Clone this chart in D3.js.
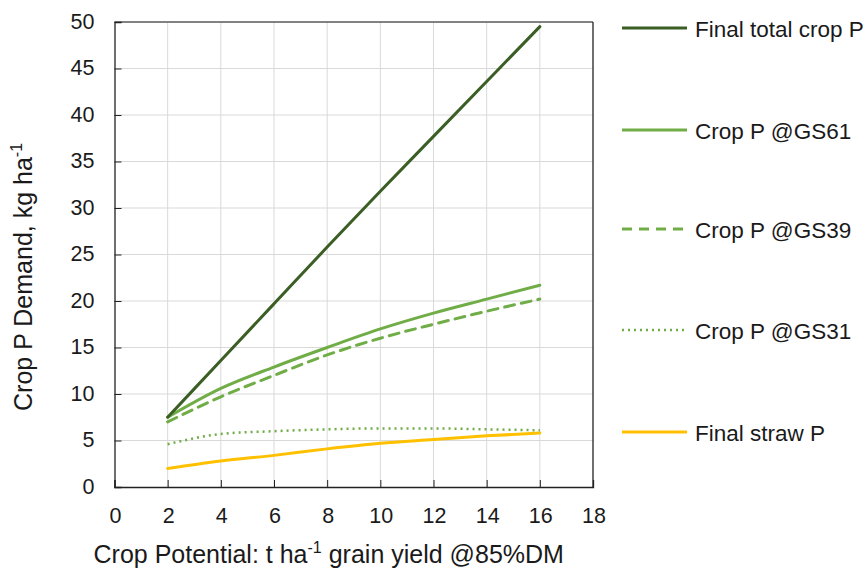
<!DOCTYPE html>
<html>
<head>
<meta charset="utf-8">
<script src="https://cdn.jsdelivr.net/npm/d3@7"></script>
<style>
  html, body { margin: 0; padding: 0; background: #fff; }
  svg text { font-family: "Liberation Sans", Arial, sans-serif; fill: #1a1a1a; }
</style>
</head>
<body>
<svg id="chart" width="868" height="571"></svg>
<script>
// Crop potential (t/ha grain yield) and P demand per growth stage (kg/ha)
const yieldPotential = [2, 4, 6, 8, 10, 12, 14, 16];
const finalTotalCropP = [7.5, 13.6, 19.7, 25.8, 31.8, 37.7, 43.6, 49.5];
const cropP_GS61 = [7.5, 10.6, 12.9, 15.0, 17.0, 18.7, 20.2, 21.7];
const cropP_GS39 = [7.0, 9.7, 12.0, 14.2, 16.0, 17.5, 18.9, 20.2];
const cropP_GS31 = [4.6, 5.7, 6.0, 6.2, 6.3, 6.3, 6.2, 6.1];
const finalStrawP = [2.0, 2.8, 3.4, 4.1, 4.7, 5.1, 5.5, 5.8];

const xTicks = [0, 2, 4, 6, 8, 10, 12, 14, 16, 18];
const yTicks = [0, 5, 10, 15, 20, 25, 30, 35, 40, 45, 50];

const series = [
  { name: "Final total crop P", values: finalTotalCropP, color: "#3b5e25", dash: null, width: 3 },
  { name: "Crop P @GS61", values: cropP_GS61, color: "#70ad47", dash: null, width: 3 },
  { name: "Crop P @GS39", values: cropP_GS39, color: "#70ad47", dash: "10,7", width: 3 },
  { name: "Crop P @GS31", values: cropP_GS31, color: "#70ad47", dash: "2,4", width: 2.5 },
  { name: "Final straw P", values: finalStrawP, color: "#ffc000", dash: null, width: 3 }
];

const svg = d3.select("#chart");
const plot = { left: 114.5, right: 593, top: 22, bottom: 487 };

const x = d3.scaleLinear().domain([0, 18]).range([plot.left, plot.right]);
const y = d3.scaleLinear().domain([0, 50]).range([plot.bottom, plot.top]);

// Gridlines
const grid = svg.append("g");
grid.selectAll("line.v").data(xTicks.slice(1, -1)).join("line")
  .attr("x1", d => x(d)).attr("x2", d => x(d))
  .attr("y1", plot.top).attr("y2", plot.bottom)
  .attr("stroke", "#d9d9d9").attr("stroke-width", 1);
grid.selectAll("line.h").data(yTicks.slice(1, -1)).join("line")
  .attr("x1", plot.left).attr("x2", plot.right)
  .attr("y1", d => y(d)).attr("y2", d => y(d))
  .attr("stroke", "#d9d9d9").attr("stroke-width", 1);

// Frame (top and right)
svg.append("line").attr("x1", plot.left).attr("x2", plot.right)
  .attr("y1", plot.top).attr("y2", plot.top)
  .attr("stroke", "#595959").attr("stroke-width", 1.3);
svg.append("line").attr("x1", plot.right).attr("x2", plot.right)
  .attr("y1", plot.top).attr("y2", plot.bottom)
  .attr("stroke", "#222").attr("stroke-width", 1.3);

// Axes with inward ticks
const xAxis = d3.axisTop(x).tickValues(xTicks).tickSize(7).tickFormat("");
const yAxis = d3.axisRight(y).tickValues(yTicks).tickSize(7).tickFormat("");
const gx = svg.append("g").attr("transform", `translate(0,${plot.bottom})`).call(xAxis);
const gy = svg.append("g").attr("transform", `translate(${plot.left},0)`).call(yAxis);
[gx, gy].forEach(g => {
  g.select(".domain").attr("stroke", "#222").attr("stroke-width", 1.3);
  g.selectAll(".tick line").attr("stroke", "#222").attr("stroke-width", 1);
});

// Tick labels
svg.append("g").selectAll("text").data(xTicks).join("text")
  .attr("x", d => x(d) + 1).attr("y", 523)
  .attr("text-anchor", "middle").attr("font-size", 21.5)
  .text(d => d);
svg.append("g").selectAll("text").data(yTicks).join("text")
  .attr("x", 94.5).attr("y", d => y(d) + 6.5)
  .attr("text-anchor", "end").attr("font-size", 21.5)
  .text(d => d);

// Axis titles
const xt = svg.append("text").attr("x", 93.5).attr("y", 563)
  .attr("text-anchor", "start").attr("font-size", 25);
xt.append("tspan").text("Crop Potential: t ha");
xt.append("tspan").attr("dy", -10).attr("font-size", 16).text("-1");
xt.append("tspan").attr("dy", 10).text(" grain yield @85%DM");

const yt = svg.append("text")
  .attr("transform", "translate(32,411) rotate(-90)")
  .attr("text-anchor", "start").attr("font-size", 25);
yt.append("tspan").text("Crop P Demand, kg ha");
yt.append("tspan").attr("dy", -10).attr("font-size", 16).text("-1");

// Series lines
const line = d3.line()
  .x((d, i) => x(yieldPotential[i]))
  .y(d => y(d))
  .curve(d3.curveMonotoneX);

svg.append("g").selectAll("path").data(series.slice().reverse()).join("path")
  .attr("d", d => line(d.values))
  .attr("fill", "none")
  .attr("stroke", d => d.color)
  .attr("stroke-width", d => d.width)
  .attr("stroke-dasharray", d => d.dash)
  .attr("stroke-linecap", d => d.dash === "2,4" ? "butt" : "round");

// Legend
const legendY = [28, 130, 229, 330, 432];
const leg = svg.append("g").selectAll("g").data(series).join("g")
  .attr("transform", (d, i) => `translate(622,${legendY[i]})`);
leg.append("line")
  .attr("x1", 0).attr("x2", 65).attr("y1", 0).attr("y2", 0)
  .attr("stroke", d => d.color)
  .attr("stroke-width", d => d.width)
  .attr("stroke-dasharray", d => d.dash);
leg.append("text").attr("x", 73).attr("y", 8.5)
  .attr("font-size", 22.5).text(d => d.name);
</script>
</body>
</html>
